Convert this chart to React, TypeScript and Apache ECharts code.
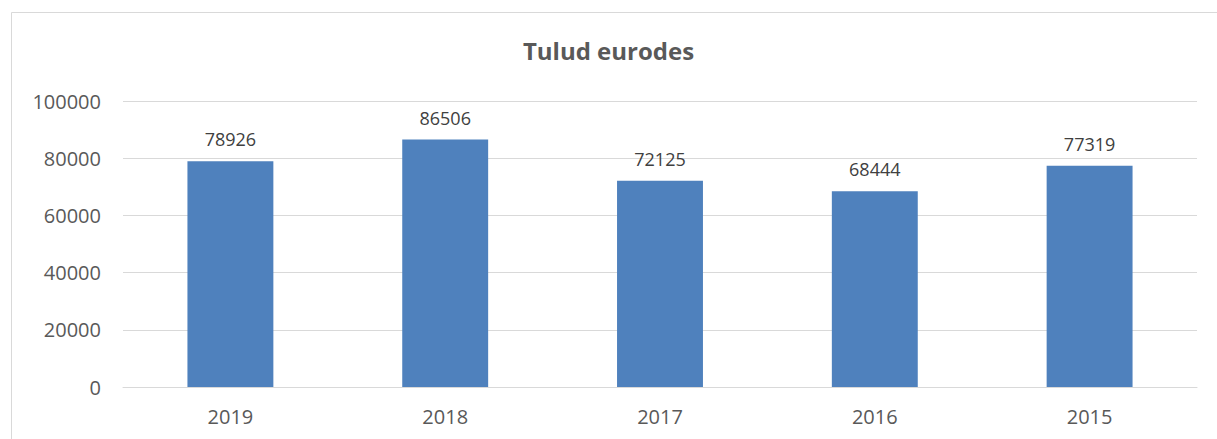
import React, { useEffect, useRef } from "react";
import * as echarts from "echarts";

const categories = ["2019", "2018", "2017", "2016", "2015"];
const values = [78926, 86506, 72125, 68444, 77319];
const yTicks = [0, 20000, 40000, 60000, 80000, 100000];
const title = "Tulud eurodes";

export default function App() {
  const ref = useRef<HTMLDivElement>(null);
  useEffect(() => {
    document.body.style.margin = "0";
    const chart = echarts.init(ref.current!, null, { renderer: "svg" });
    const font = "'Open Sans', 'Liberation Sans', sans-serif";
    chart.setOption({
      animation: false,
      backgroundColor: "#ffffff",
      title: {
        text: title,
        left: "center",
        top: 33,
        textStyle: { fontFamily: font, fontSize: 24, fontWeight: "bold", color: "#595959" },
      },
      graphic: [
        {
          type: "rect",
          shape: { x: 11.5, y: 12.5, width: 1230, height: 450 },
          style: { fill: "none", stroke: "#d9d9d9", lineWidth: 1 },
          silent: true,
        },
      ],
      grid: { left: 123, right: 20, top: 101, bottom: 52, containLabel: false },
      xAxis: {
        type: "category",
        data: categories,
        axisLine: { show: true, lineStyle: { color: "#d9d9d9", width: 1 } },
        axisTick: { show: false },
        axisLabel: { fontFamily: font, fontSize: 20, color: "#595959", margin: 19 },
      },
      yAxis: {
        type: "value",
        min: yTicks[0],
        max: yTicks[yTicks.length - 1],
        interval: 20000,
        axisLine: { show: false },
        axisTick: { show: false },
        splitLine: { lineStyle: { color: "#d9d9d9", width: 1 } },
        axisLabel: {
          fontFamily: font,
          fontSize: 20,
          color: "#595959",
          margin: 22,
          formatter: (v: number) => String(v),
        },
      },
      series: [
        {
          type: "bar",
          data: values,
          barWidth: "40%",
          itemStyle: { color: "#4f81bd" },
          label: {
            show: true,
            position: "top",
            distance: 13,
            fontFamily: font,
            fontSize: 18,
            color: "#404040",
          },
        },
      ],
    });
    return () => chart.dispose();
  }, []);
  return <div ref={ref} style={{ width: 1217, height: 439 }} />;
}
